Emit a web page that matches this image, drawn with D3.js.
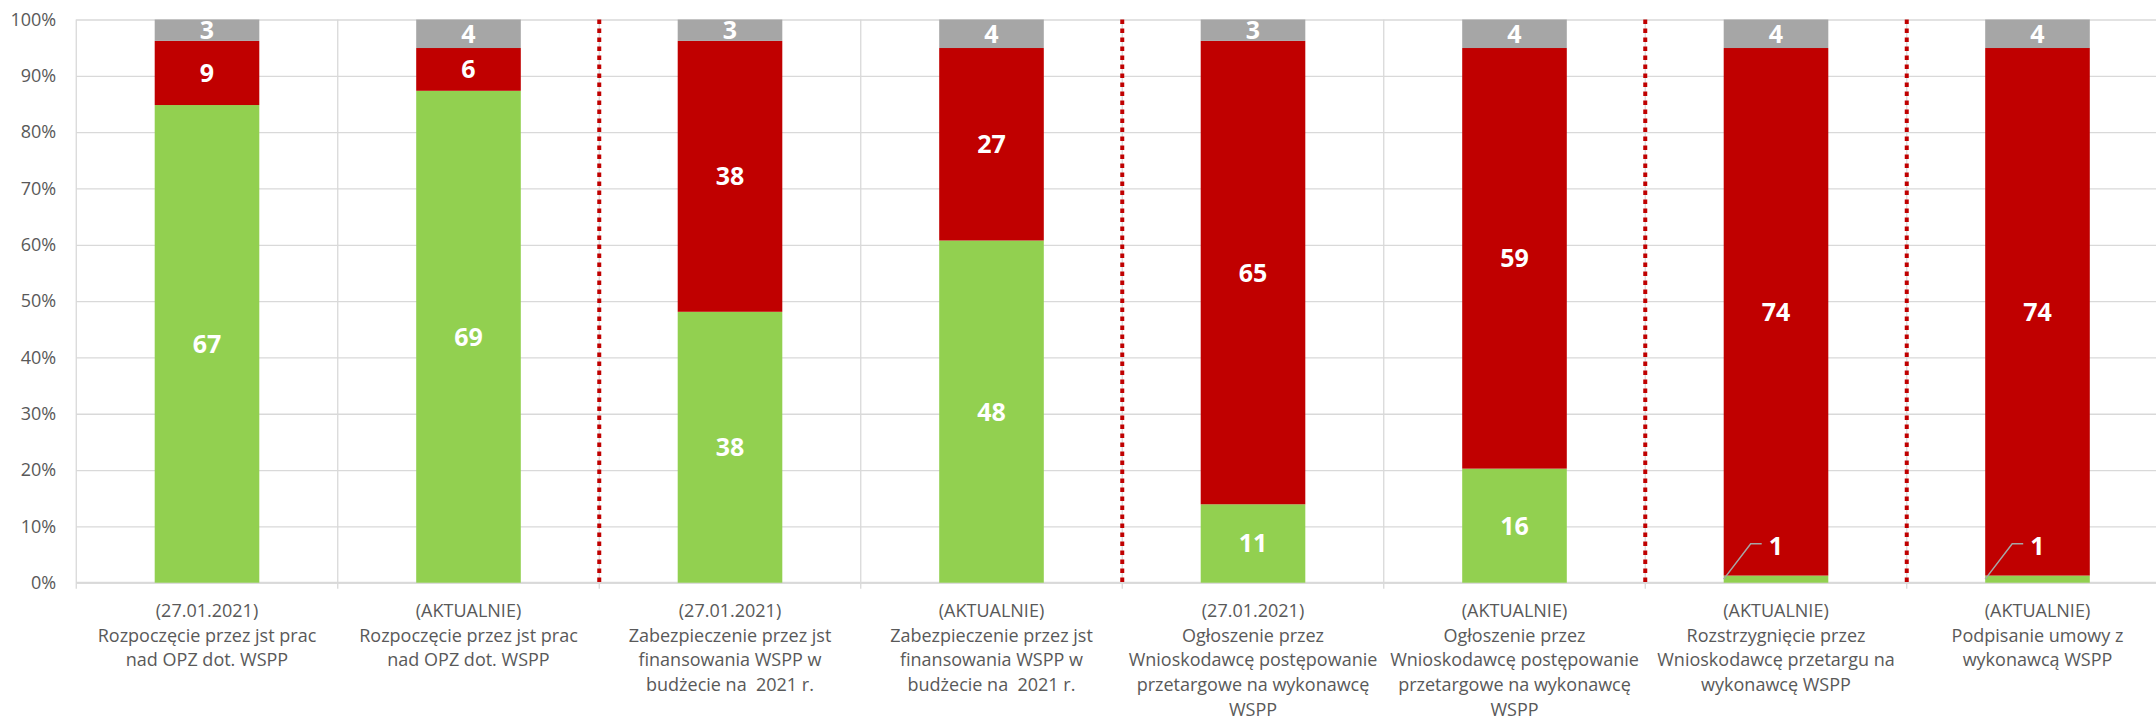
<!DOCTYPE html>
<html>
<head>
<meta charset="utf-8">
<script src="https://cdn.jsdelivr.net/npm/d3@7"></script>
<style>
  body { margin: 0; background: #fff; }
  text { font-family: "Open Sans", "Noto Sans", sans-serif; }
</style>
</head>
<body>
<div class="chart"></div>
<script>
// DATA ------------------------------
const dates = ["(27.01.2021)", "(AKTUALNIE)", "(27.01.2021)", "(AKTUALNIE)",
               "(27.01.2021)", "(AKTUALNIE)", "(AKTUALNIE)", "(AKTUALNIE)"]
const descriptions = [
  ["Rozpoczęcie przez jst prac", "nad OPZ dot. WSPP"],
  ["Rozpoczęcie przez jst prac", "nad OPZ dot. WSPP"],
  ["Zabezpieczenie przez jst", "finansowania WSPP w", "budżecie na  2021 r."],
  ["Zabezpieczenie przez jst", "finansowania WSPP w", "budżecie na  2021 r."],
  ["Ogłoszenie przez", "Wnioskodawcę postępowanie", "przetargowe na wykonawcę", "WSPP"],
  ["Ogłoszenie przez", "Wnioskodawcę postępowanie", "przetargowe na wykonawcę", "WSPP"],
  ["Rozstrzygnięcie przez", "Wnioskodawcę przetargu na", "wykonawcę WSPP"],
  ["Podpisanie umowy z", "wykonawcą WSPP"]
]
const greenValues = [67, 69, 38, 48, 11, 16, 1, 1]
const redValues = [9, 6, 38, 27, 65, 59, 74, 74]
const greyValues = [3, 4, 3, 4, 3, 4, 4, 4]
const yTicks = [0, 0.1, 0.2, 0.3, 0.4, 0.5, 0.6, 0.7, 0.8, 0.9, 1]
// separators drawn after these categories
const separatorsAfter = [1, 3, 5, 6]

const keys = ["green", "red", "grey"]
const colors = {green: "#92d050", red: "#c00000", grey: "#a6a6a6"}

const table = dates.map((d, i) => ({
  idx: i, green: greenValues[i], red: redValues[i], grey: greyValues[i]
}))

// MARGIN CONVENTION
const margin = ({top: 19.5, right: 0, bottom: 138, left: 76.25})
const width = 2092
const height = 563.2

const svg = d3.select(".chart")
  .append("svg")
  .attr("width", 2156)
  .attr("height", 721)
  .append("g")
  .attr("transform", "translate(" + margin.left + "," + margin.top + ")")

// scales
const xScale = d3.scaleBand()
  .domain(table.map(d => d.idx))
  .range([0, width])
  .paddingInner(0.6)
  .paddingOuter(0.3)
const yScale = d3.scaleLinear()
  .domain([0, 1])
  .range([height, 0])

const gap = (xScale.step() - xScale.bandwidth()) / 2
const boundary = i => xScale(i) - gap   // left edge of category i

// horizontal grid + y labels
const yAxis = d3.axisLeft(yScale)
  .tickValues(yTicks)
  .tickFormat(d3.format(".0%"))
  .tickSize(-width)
  .tickPadding(20)
svg.append("g")
  .attr("class", "y-axis")
  .call(yAxis)
  .call(g => g.select(".domain").remove())
  .call(g => g.selectAll(".tick line").attr("stroke", "#d9d9d9").attr("stroke-width", 1.3))
  .call(g => g.selectAll(".tick text")
    .attr("fill", "#595959")
    .style("font-size", "18px"))

// vertical gridlines / ticks at category boundaries
const bounds = d3.range(table.length + 1)
svg.append("g")
  .selectAll("line")
  .data(bounds)
  .join("line")
  .attr("x1", d => d < table.length ? boundary(d) : boundary(d - 1) + xScale.step())
  .attr("x2", d => d < table.length ? boundary(d) : boundary(d - 1) + xScale.step())
  .attr("y1", 0)
  .attr("y2", height + 6)
  .attr("stroke", "#d9d9d9")
  .attr("stroke-width", 1.3)

// bottom axis line
svg.append("line")
  .attr("x1", 0).attr("x2", width)
  .attr("y1", height).attr("y2", height)
  .attr("stroke", "#d9d9d9")
  .attr("stroke-width", 2)

// stacked bars
const stack = d3.stack().keys(keys).offset(d3.stackOffsetExpand)
const series = stack(table)

const layers = svg.append("g")
  .selectAll("g")
  .data(series)
  .join("g")
  .attr("fill", d => colors[d.key])

layers.selectAll("rect")
  .data(d => d)
  .join("rect")
  .attr("x", d => xScale(d.data.idx))
  .attr("y", d => yScale(d[1]))
  .attr("width", xScale.bandwidth())
  .attr("height", d => yScale(d[0]) - yScale(d[1]))

// red dotted separators
svg.append("g")
  .selectAll("line")
  .data(separatorsAfter)
  .join("line")
  .attr("x1", d => boundary(d + 1))
  .attr("x2", d => boundary(d + 1))
  .attr("y1", 0)
  .attr("y2", height)
  .attr("stroke", "#c00000")
  .attr("stroke-width", 4)
  .attr("stroke-dasharray", "4.5,4.5")

// data labels
const labels = []
series.forEach(s => s.forEach(d => {
  labels.push({key: s.key, value: d.data[s.key], idx: d.data.idx, y0: d[0], y1: d[1]})
}))

const labelG = svg.append("g")
labels.forEach(l => {
  const segH = yScale(l.y0) - yScale(l.y1)
  const cx = xScale(l.idx) + xScale.bandwidth() / 2
  let cy = (yScale(l.y0) + yScale(l.y1)) / 2
  if (segH < 12) {
    // leader line for tiny segment
    const sx = xScale(l.idx)
    const ly = yScale(l.y0) - 39
    labelG.append("polyline")
      .attr("points", [[sx, cy], [sx + 27, ly], [sx + 38, ly]].map(p => p.join(",")).join(" "))
      .attr("fill", "none")
      .attr("stroke", "#a6a6a6")
      .attr("stroke-width", 1.5)
    cy = ly + 2
  }
  labelG.append("text")
    .attr("x", cx)
    .attr("y", cy)
    .attr("dy", "0.36em")
    .attr("text-anchor", "middle")
    .attr("fill", "#fff")
    .style("font-size", "25px")
    .style("font-weight", "bold")
    .text(l.value)
})

// category labels
const catG = svg.append("g")
  .selectAll("text")
  .data(table)
  .join("text")
  .attr("x", d => xScale(d.idx) + xScale.bandwidth() / 2)
  .attr("y", height + 34)
  .attr("text-anchor", "middle")
  .attr("fill", "#595959")
  .style("font-size", "18px")
  .style("white-space", "pre")

catG.selectAll("tspan")
  .data(d => [dates[d.idx]].concat(descriptions[d.idx]))
  .join("tspan")
  .attr("x", function () { return this.parentNode.getAttribute("x") })
  .attr("dy", (d, i) => i === 0 ? 0 : 24.8)
  .text(d => d)
</script>
</body>
</html>
